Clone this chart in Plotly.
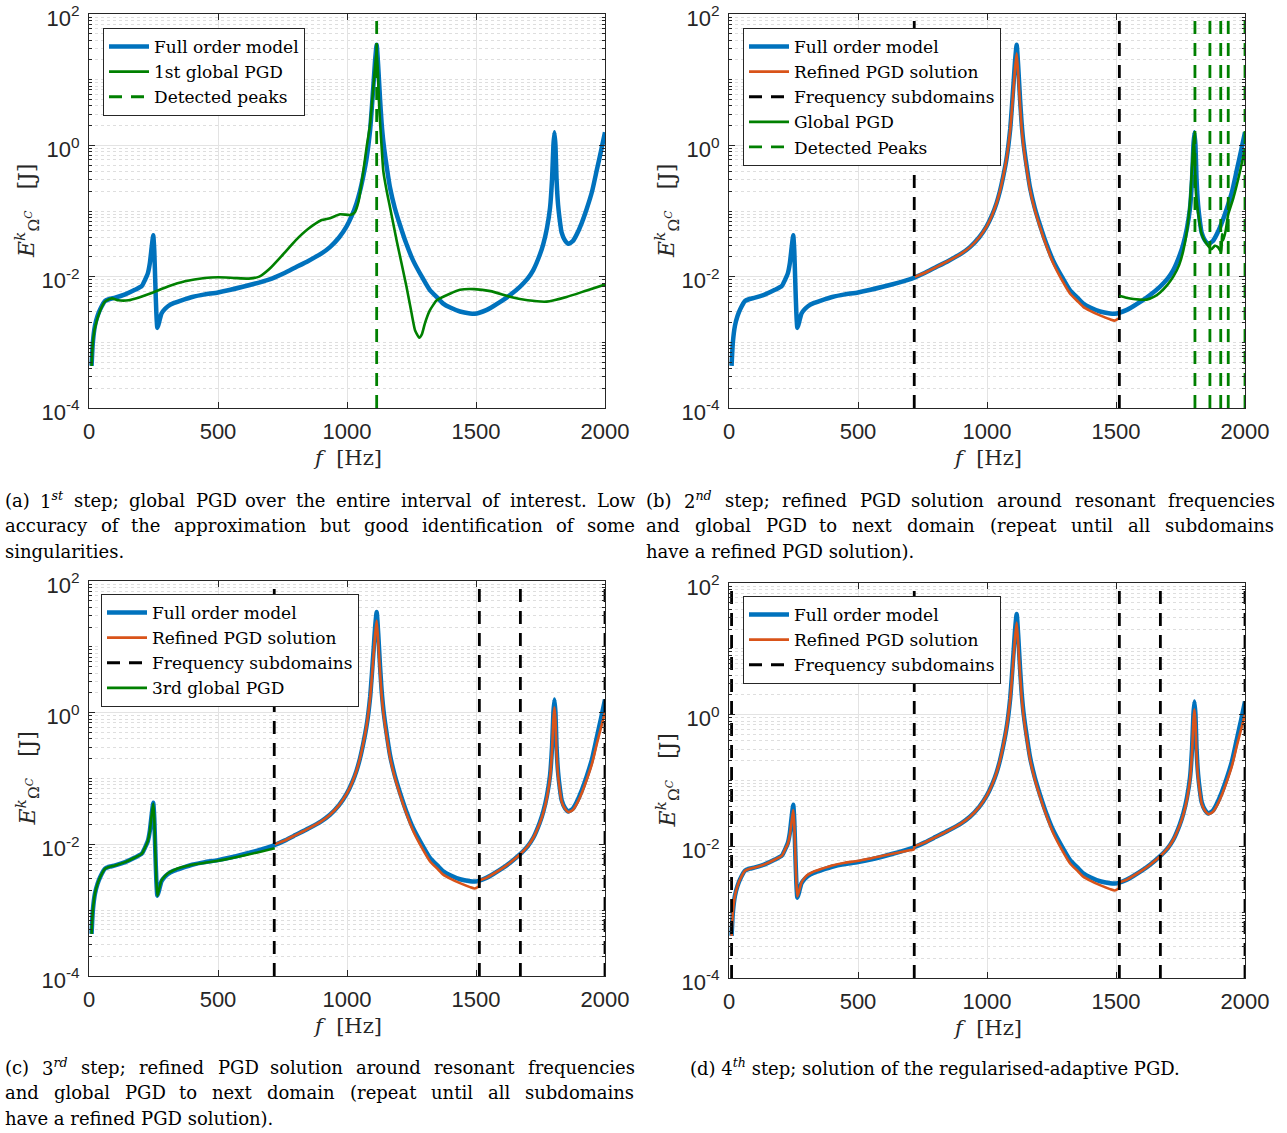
import re
import plotly.graph_objects as go

W, H = 1287, 1133

# ---------------- data (log10 of energy, frequency in Hz) ----------------
fom_f = [10, 15, 23, 33, 43, 62, 80, 101, 140, 178, 205, 217, 228, 236, 243, 249, 253, 257, 261, 265,
         270, 281, 295, 306, 330, 359, 400, 449, 500, 600, 700, 720, 760, 800, 850, 900, 934, 970, 999, 1020,
         1037, 1050, 1063, 1075, 1083, 1090, 1096, 1103, 1109, 1115, 1121, 1128, 1134, 1141, 1150, 1167, 1185, 1205, 1230, 1257,
         1290, 1322, 1350, 1373, 1400, 1438, 1477, 1495, 1513, 1540, 1567, 1600, 1632, 1671, 1700, 1722, 1748, 1761, 1775, 1787,
         1795, 1800, 1804, 1808, 1812, 1818, 1825, 1832, 1845, 1858, 1875, 1890, 1910, 1929, 1950, 1968, 1985, 2000]
fom_log = [-3.36, -3.0, -2.75, -2.6, -2.5, -2.37, -2.34, -2.32, -2.27, -2.20, -2.14, -2.05, -1.95, -1.79, -1.55, -1.37, -1.6, -2.1, -2.55, -2.78,
           -2.72, -2.56, -2.49, -2.45, -2.40, -2.36, -2.31, -2.27, -2.24, -2.15, -2.04, -2.01, -1.94, -1.86, -1.76, -1.65, -1.55, -1.40, -1.23, -1.06,
           -0.88, -0.70, -0.47, -0.22, 0.0, 0.25, 0.56, 0.95, 1.3, 1.53, 1.2, 0.71, 0.35, 0.05, -0.22, -0.65, -0.95, -1.21, -1.5, -1.76,
           -2.0, -2.21, -2.32, -2.41, -2.47, -2.53, -2.56, -2.565, -2.55, -2.51, -2.45, -2.37, -2.28, -2.15, -2.03, -1.90, -1.66, -1.50, -1.26, -0.95,
           -0.5, 0.0, 0.2, 0.0, -0.5, -0.9, -1.15, -1.33, -1.45, -1.50, -1.46, -1.36, -1.18, -0.97, -0.70, -0.38, -0.08, 0.2]

# refined PGD solution (final, all subdomains)
rom_f = [10, 15, 23, 33, 43, 62, 80, 101, 140, 178, 205, 217, 228, 236, 243, 249, 253, 257, 261, 265,
         270, 281, 295, 306, 330, 359, 400, 449, 500, 600, 700, 716, 720, 760, 800, 850, 900, 934, 970, 999, 1020,
         1037, 1050, 1063, 1075, 1083, 1090, 1096, 1103, 1109, 1115, 1121, 1128, 1134, 1141, 1150, 1167, 1185, 1205, 1230, 1257,
         1290, 1322, 1350, 1373, 1400, 1438, 1477, 1495, 1510, 1513, 1540, 1567, 1600, 1632, 1671, 1700, 1722, 1748, 1761, 1775, 1787,
         1795, 1800, 1804, 1808, 1812, 1818, 1825, 1832, 1845, 1858, 1875, 1890, 1910, 1929, 1950, 1968, 1985, 2000]
rom_log = [-3.36, -3.0, -2.75, -2.6, -2.5, -2.37, -2.34, -2.32, -2.27, -2.20, -2.14, -2.05, -1.96, -1.82, -1.62, -1.45, -1.66, -2.12, -2.55, -2.76,
           -2.70, -2.55, -2.47, -2.43, -2.38, -2.34, -2.29, -2.25, -2.22, -2.14, -2.06, -2.05, -2.0, -1.94, -1.86, -1.76, -1.65, -1.55, -1.40, -1.23, -1.06,
           -0.88, -0.70, -0.47, -0.22, 0.0, 0.24, 0.52, 0.88, 1.18, 1.40, 1.08, 0.62, 0.28, 0.0, -0.26, -0.68, -0.98, -1.24, -1.53, -1.80,
           -2.05, -2.26, -2.37, -2.46, -2.52, -2.59, -2.65, -2.67, -2.64, -2.55, -2.51, -2.45, -2.37, -2.28, -2.15, -2.03, -1.90, -1.67, -1.52, -1.29, -0.98,
           -0.55, -0.1, 0.08, -0.12, -0.58, -0.95, -1.18, -1.35, -1.46, -1.51, -1.48, -1.39, -1.22, -1.02, -0.77, -0.48, -0.22, 0.0]

# 1st global PGD (panel a)
pgd1_f = [10, 15, 23, 43, 62, 88, 114, 153, 191, 243, 306, 372, 449, 500, 560, 620, 660, 700, 750, 800,
          850, 900, 934, 973, 1012, 1030, 1045, 1063, 1077, 1089, 1100, 1109, 1115, 1120, 1125, 1133, 1141, 1155, 1167, 1193,
          1231, 1250, 1264, 1280, 1290, 1302, 1320, 1348, 1399, 1438, 1493, 1556, 1635, 1700, 1774, 1851, 1929, 2000]
pgd1_log = [-3.36, -3.0, -2.78, -2.52, -2.38, -2.33, -2.36, -2.36, -2.32, -2.25, -2.15, -2.07, -2.02, -2.01, -2.02, -2.03, -2.0, -1.88, -1.67, -1.45,
            -1.27, -1.14, -1.11, -1.05, -1.06, -1.02, -0.85, -0.40, 0.0, 0.30, 0.8, 1.21, 1.45, 1.1, 0.56, 0.05, -0.40, -0.72, -0.95, -1.46,
            -2.16, -2.55, -2.82, -2.93, -2.88, -2.71, -2.52, -2.36, -2.26, -2.20, -2.19, -2.22, -2.31, -2.36, -2.38, -2.31, -2.21, -2.12]

# global PGD on last subdomain (panel b)
pgd2_f = [1513, 1540, 1567, 1619, 1650, 1671, 1700, 1722, 1745, 1761, 1775, 1787, 1795, 1802, 1806, 1810, 1819, 1832, 1851, 1870,
          1883, 1895, 1900, 1908, 1911, 1915, 1925, 1935, 1955, 1981, 2000]
pgd2_log = [-2.29, -2.32, -2.34, -2.35, -2.30, -2.24, -2.12, -2.0, -1.82, -1.60, -1.30, -0.84, -0.3, 0.14, -0.3, -0.74, -1.05, -1.35, -1.50, -1.58,
            -1.53, -1.55, -1.58, -1.63, -1.35, -1.45, -1.30, -1.05, -0.80, -0.39, -0.04]

# 3rd global PGD (panel c)
pgd3_f = [10, 15, 23, 33, 43, 62, 80, 101, 140, 178, 205, 217, 228, 236, 243, 249, 253, 257, 261, 265,
          270, 281, 295, 306, 330, 359, 400, 449, 500, 600, 700, 720]
pgd3_log = [-3.36, -3.0, -2.75, -2.6, -2.5, -2.37, -2.34, -2.32, -2.27, -2.20, -2.14, -2.05, -1.95, -1.79, -1.55, -1.38, -1.6, -2.1, -2.55, -2.78,
            -2.71, -2.55, -2.48, -2.44, -2.39, -2.35, -2.31, -2.28, -2.25, -2.17, -2.08, -2.06]

peaks_a = [1115]
peaks_b = [1806, 1864, 1906, 1935, 2000]
subdom_b = [718, 1513]
subdom_c = [718, 1513, 1672, 2000]
subdom_d = [10, 718, 1513, 1672, 2000]

x_ticks = [0, 500, 1000, 1500, 2000]
y_ticks = [1e-4, 1e-2, 1e0, 1e2]
y_ticktext = ["10<sup>-4</sup>", "10<sup>-2</sup>", "10<sup>0</sup>", "10<sup>2</sup>"]

# caption lines: (text, justified?)
captions = {
    "a": [("(a) 1<sup><i>st</i></sup> step; global PGD over the entire interval of interest. Low", True),
          ("accuracy of the approximation but good identification of some", True),
          ("singularities.", False)],
    "b": [("(b) 2<sup><i>nd</i></sup> step; refined PGD solution around resonant frequencies", True),
          ("and global PGD to next domain (repeat until all subdomains", True),
          ("have a refined PGD solution).", False)],
    "c": [("(c) 3<sup><i>rd</i></sup> step; refined PGD solution around resonant frequencies", True),
          ("and global PGD to next domain (repeat until all subdomains", True),
          ("have a refined PGD solution).", False)],
    "d": [("(d) 4<sup><i>th</i></sup> step; solution of the regularised-adaptive PGD.", False)],
}

# ---------------- styling ----------------
BLUE = "#0072BD"
ORANGE = "#D95319"
GREEN = "#008000"
AXC = "#262626"
SERIF = "DejaVu Serif"
SANS = "Liberation Sans"
CAP_SIZE = 18

# approximate DejaVu Serif advance widths (units per 2048 em), used to justify caption lines
ADV = dict(a=1221, b=1315, c=1147, d=1315, e=1212, f=741, g=1315, h=1327, i=657, j=636, k=1262, l=657,
           m=1991, n=1327, o=1233, p=1315, q=1315, r=979, s=1055, t=819, u=1327, v=1180, w=1737, x=1180,
           y=1180, z=1077)
ADV_UP = dict(A=1479, B=1405, C=1433, D=1561, E=1371, F=1276, G=1549, H=1720, I=827, J=823, K=1478, L=1298,
              M=1980, N=1690, O=1573, P=1294, Q=1573, R=1462, S=1325, T=1340, U=1650, V=1479, W=2105, X=1479,
              Y=1380, Z=1384)
ADV_PUNCT = {"(": 799, ")": 799, ";": 690, ".": 651, ",": 651, "-": 739, " ": 651}


def plain_width(s, size):
    w = 0
    for ch in s:
        if ch in ADV:
            w += ADV[ch]
        elif ch in ADV_UP:
            w += ADV_UP[ch]
        elif ch.isdigit():
            w += 1303
        else:
            w += ADV_PUNCT.get(ch, 1200)
    return w * size / 2048.0


def text_width(word, size):
    total = 0.0
    pos = 0
    for m in re.finditer(r"<sup>(.*?)</sup>", word):
        total += plain_width(re.sub(r"<.*?>", "", word[pos:m.start()]), size)
        total += plain_width(re.sub(r"<.*?>", "", m.group(1)), size * 0.7)
        pos = m.end()
    total += plain_width(re.sub(r"<.*?>", "", word[pos:]), size)
    return total


def E(vals):
    return [10 ** v for v in vals]


def vlines(xs):
    X, Y = [], []
    for x in xs:
        X += [x, x, None]
        Y += [1e-4, 1e2, None]
    return X, Y


def seg(fs, vs, lo, hi):
    pts = [(f, v) for f, v in zip(fs, vs) if lo <= f <= hi]
    return [p[0] for p in pts], [p[1] for p in pts]


fig = go.Figure()

# panel geometry in pixels: (left, right, top, bottom)
panels = {
    "a": (89, 605, 14, 408),
    "b": (729, 1245, 14, 408),
    "c": (89, 605, 581, 976),
    "d": (729, 1245, 583, 978),
}
axis_ids = {"a": ("x", "y", ""), "b": ("x2", "y2", "2"), "c": ("x3", "y3", "3"), "d": ("x4", "y4", "4")}
legend_ids = {"a": "legend", "b": "legend2", "c": "legend3", "d": "legend4"}


def add(p, x, y, name, color, width, dash="solid", smooth=True):
    xa, ya, _ = axis_ids[p]
    line = dict(color=color, width=width, dash=dash)
    if smooth:
        line.update(shape="spline", smoothing=0.5)
    fig.add_trace(go.Scatter(x=x, y=y, mode="lines", name=name, xaxis=xa, yaxis=ya,
                             line=line, legend=legend_ids[p], hoverinfo="skip"))


DASH = "13px,9px"

# panel a
add("a", fom_f, E(fom_log), "Full order model", BLUE, 4.5)
add("a", pgd1_f, E(pgd1_log), "1st global PGD", GREEN, 2.6)
vx, vy = vlines(peaks_a)
add("a", vx, vy, "Detected peaks", GREEN, 2.8, DASH, smooth=False)

# panel b
add("b", fom_f, E(fom_log), "Full order model", BLUE, 4.5)
sx, sv = seg(rom_f, rom_log, 718, 1511)
add("b", sx, E(sv), "Refined PGD solution", ORANGE, 2.6)
vx, vy = vlines(subdom_b)
add("b", vx, vy, "Frequency subdomains", "black", 2.8, DASH, smooth=False)
add("b", pgd2_f, E(pgd2_log), "Global PGD", GREEN, 2.6)
vx, vy = vlines(peaks_b)
add("b", vx, vy, "Detected Peaks", GREEN, 2.8, DASH, smooth=False)

# panel c
add("c", fom_f, E(fom_log), "Full order model", BLUE, 4.5)
sx, sv = seg(rom_f, rom_log, 718, 2000)
add("c", sx, E(sv), "Refined PGD solution", ORANGE, 2.6)
vx, vy = vlines(subdom_c)
add("c", vx, vy, "Frequency subdomains", "black", 2.8, DASH, smooth=False)
add("c", pgd3_f, E(pgd3_log), "3rd global PGD", GREEN, 2.6)

# panel d
add("d", fom_f, E(fom_log), "Full order model", BLUE, 4.5)
add("d", rom_f, E(rom_log), "Refined PGD solution", ORANGE, 2.6)
vx, vy = vlines(subdom_d)
add("d", vx, vy, "Frequency subdomains", "black", 2.8, DASH, smooth=False)

minor_vals = []
for n in range(-4, 2):
    for k in range(1, 10):
        v = k * 10 ** n
        if v not in y_ticks:
            minor_vals.append(v)

layout = dict(width=W, height=H, autosize=False, margin=dict(l=0, r=0, t=0, b=0, pad=0),
              paper_bgcolor="white", plot_bgcolor="white", showlegend=True)

annotations = []
legend_pos = {"a": (103, 28), "b": (743, 28), "c": (101, 594), "d": (743, 596)}

for p, (l, r, t, b) in panels.items():
    xa, ya, sfx = axis_ids[p]
    layout["xaxis" + sfx] = dict(
        domain=[l / W, r / W], anchor=ya, range=[0, 2000], tickmode="array", tickvals=x_ticks,
        ticks="inside", ticklen=6, tickcolor=AXC, showline=True, linecolor=AXC, linewidth=1,
        mirror="allticks", showgrid=True, gridcolor="#e3e3e3", gridwidth=1, zeroline=False,
        tickfont=dict(family=SANS, size=22, color=AXC), ticklabelstandoff=4, automargin=False,
        ticklabeloverflow="allow")
    layout["yaxis" + sfx] = dict(
        domain=[1 - b / H, 1 - t / H], anchor=xa, type="log", range=[-4, 2], tickmode="array",
        tickvals=y_ticks, ticktext=y_ticktext, ticks="inside", ticklen=6, tickcolor=AXC,
        showline=True, linecolor=AXC, linewidth=1, mirror="allticks", showgrid=True,
        gridcolor="#e3e3e3", gridwidth=1, zeroline=False, automargin=False,
        ticklabeloverflow="allow", ticklabelshift=4,
        tickfont=dict(family=SANS, size=22, color=AXC), ticklabelstandoff=4,
        minor=dict(tickmode="array", tickvals=minor_vals, ticks="inside", ticklen=3, tickcolor=AXC,
                   showgrid=True, gridcolor="#dedede", griddash="dot", gridwidth=1))
    lx, ly = legend_pos[p]
    layout[legend_ids[p]] = dict(
        x=lx / W, y=1 - ly / H, xanchor="left", yanchor="top", bgcolor="white",
        bordercolor=AXC, borderwidth=1, font=dict(family=SERIF, size=17, color="black"),
        itemwidth=40, tracegroupgap=0, itemclick=False, itemdoubleclick=False)
    cx = (l + r) / 2
    annotations.append(dict(x=cx / W, y=1 - (b + 50) / H, xref="paper", yref="paper",
                            text="<i>f</i>  [Hz]", showarrow=False, xanchor="center", yanchor="middle",
                            font=dict(family=SERIF, size=21, color=AXC)))
    annotations.append(dict(x=(l - 62) / W, y=1 - ((t + b) / 2) / H, xref="paper", yref="paper",
                            text="<i>E</i><sup><i>k</i></sup><sub>Ω<sup><i>C</i></sup></sub>   [J]",
                            textangle=-90, showarrow=False, xanchor="center", yanchor="middle",
                            font=dict(family=SERIF, size=22, color=AXC)))

# caption placement: (left px, right px, first line centre y px)
cap_pos = {"a": (5, 635, 500), "b": (646, 1275, 500), "c": (5, 635, 1067), "d": (690, 1275, 1067)}
LINE_H = 25.5
for p, lines in captions.items():
    x0, x1, y0 = cap_pos[p]
    for i, (txt, justify) in enumerate(lines):
        yy = 1 - (y0 + LINE_H * i) / H
        if not justify:
            annotations.append(dict(x=(x0 - 2) / W, y=yy, xref="paper", yref="paper", text=txt,
                                    showarrow=False, xanchor="left", yanchor="middle",
                                    font=dict(family=SERIF, size=CAP_SIZE, color="black")))
            continue
        words = txt.split(" ")
        widths = [text_width(wd, CAP_SIZE) for wd in words]
        gap = (x1 - x0 - sum(widths)) / (len(words) - 1)
        xpos = x0
        for wd, wdt in zip(words, widths):
            annotations.append(dict(x=(xpos - 2) / W, y=yy, xref="paper", yref="paper", text=wd,
                                    showarrow=False, xanchor="left", yanchor="middle",
                                    font=dict(family=SERIF, size=CAP_SIZE, color="black")))
            xpos += wdt + gap

layout["annotations"] = annotations
fig.update_layout(**layout)
fig.write_html("out.html")
